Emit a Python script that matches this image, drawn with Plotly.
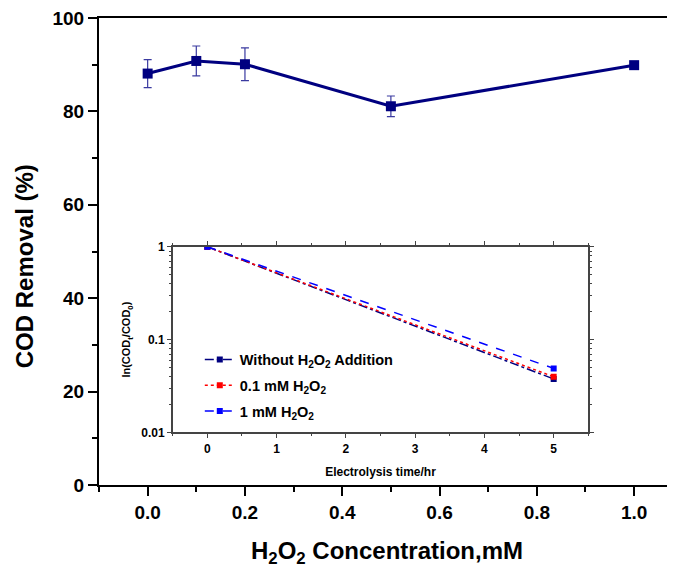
import plotly.graph_objects as go

# Main data
conc = [0.0, 0.1, 0.2, 0.5, 1.0]
cod_removal = [88.1, 90.8, 90.1, 81.1, 89.9]
cod_err = [3.0, 3.2, 3.5, 2.2, 0.0]

# Inset data
time_hr = [0, 5]
without_h2o2 = [1.0, 0.0377]
h2o2_01 = [1.0, 0.0398]
h2o2_1 = [1.0, 0.049]
inset_names = ["Without H<sub>2</sub>O<sub>2</sub> Addition",
               "0.1 mM H<sub>2</sub>O<sub>2</sub>",
               "1 mM H<sub>2</sub>O<sub>2</sub>"]
log_minor = [0.02, 0.03, 0.04, 0.05, 0.06, 0.07, 0.08, 0.09,
             0.2, 0.3, 0.4, 0.5, 0.6, 0.7, 0.8, 0.9]

FONT = "Liberation Sans, Arial"
NAVY = "#000080"

fig = go.Figure()
fig.add_trace(go.Scatter(
    x=conc, y=cod_removal, mode="lines+markers",
    line=dict(color=NAVY, width=3),
    marker=dict(symbol="square", size=10, color=NAVY),
    error_y=dict(type="data", array=cod_err, color="#3a3aa0", thickness=1.2, width=4),
    showlegend=False, xaxis="x", yaxis="y"))

styles = [(without_h2o2, NAVY, "dashdot"), (h2o2_01, "#ff0000", "dot"), (h2o2_1, "#0000ff", "dash")]
for i, ((vals, col, dash), name) in enumerate(zip(styles, inset_names)):
    fig.add_trace(go.Scatter(
        x=time_hr, y=vals, mode="lines+markers", name=name, legendgroup=f"g{i}",
        line=dict(color=col, width=1.5, dash=dash),
        marker=dict(symbol="square", size=6, color=col),
        xaxis="x2", yaxis="y2"))

fig.update_layout(
    width=667, height=563,
    margin=dict(l=91, r=0, t=6, b=86),
    plot_bgcolor="white", paper_bgcolor="white",
    font=dict(family=FONT, color="black"),
    xaxis=dict(domain=[0, 1], range=[-0.1, 1.084], tick0=0, dtick=0.2, tickformat=".1f",
               showline=True, linecolor="black", linewidth=2, mirror=True,
               ticks="outside", ticklen=9, tickwidth=1.5, tickcolor="black",
               minor=dict(ticks="outside", dtick=0.1, ticklen=5, tickcolor="black"),
               showgrid=False, zeroline=False, ticklabeloverflow="allow",
               tickfont=dict(size=19, family=FONT, weight="bold"),
               title=dict(text="H<sub>2</sub>O<sub>2</sub> Concentration,mM",
                          font=dict(size=24, family=FONT, weight="bold"), standoff=20)),
    yaxis=dict(domain=[0, 1], range=[0, 100], dtick=20,
               showline=True, linecolor="black", linewidth=2,
               ticks="outside", ticklen=9, tickwidth=1.5, tickcolor="black",
               minor=dict(ticks="outside", dtick=10, ticklen=5, tickcolor="black"),
               showgrid=False, zeroline=False, ticklabeloverflow="allow",
               tickfont=dict(size=19, family=FONT, weight="bold")),
    xaxis2=dict(domain=[0.128, 0.8495], anchor="y2", range=[-0.5, 5.5], dtick=1,
                showline=True, linecolor="#444", linewidth=1.5, mirror="ticks",
                ticks="outside", ticklen=4, tickcolor="#444",
                minor=dict(ticks="outside", dtick=0.5, ticklen=2, tickcolor="#444"),
                showgrid=False, zeroline=False,
                tickfont=dict(size=12, family=FONT, weight="bold"),
                title=dict(text="Electrolysis time/hr",
                           font=dict(size=12, family=FONT, weight="bold"), standoff=13)),
    yaxis2=dict(domain=[0.1125, 0.510], anchor="x2", type="log", range=[-2, 0],
                tickvals=[0.01, 0.1, 1], ticktext=["0.01", "0.1", "1"],
                showline=True, linecolor="#444", linewidth=1.5, mirror="ticks",
                ticks="outside", ticklen=4, tickcolor="#444",
                minor=dict(ticks="outside", tickvals=log_minor, ticklen=2, tickcolor="#444"),
                showgrid=False, zeroline=False,
                tickfont=dict(size=12, family=FONT, weight="bold"),
                title=dict(text="ln(COD<sub>t</sub>/COD<sub>0</sub>)",
                           font=dict(size=11, family=FONT, weight="bold"), standoff=8)),
    legend=dict(x=0.175, y=0.303, xanchor="left", yanchor="top",
                bgcolor="rgba(0,0,0,0)", borderwidth=0,
                font=dict(size=14.5, family=FONT, weight="bold"),
                tracegroupgap=4, itemwidth=30),
    annotations=[dict(text="COD Removal (%)", xref="paper", yref="paper",
                      x=-0.128, y=0.469, xanchor="center", yanchor="middle",
                      textangle=-90, showarrow=False,
                      font=dict(size=24, family=FONT, weight="bold"))],
)

fig.write_html("out.html")
